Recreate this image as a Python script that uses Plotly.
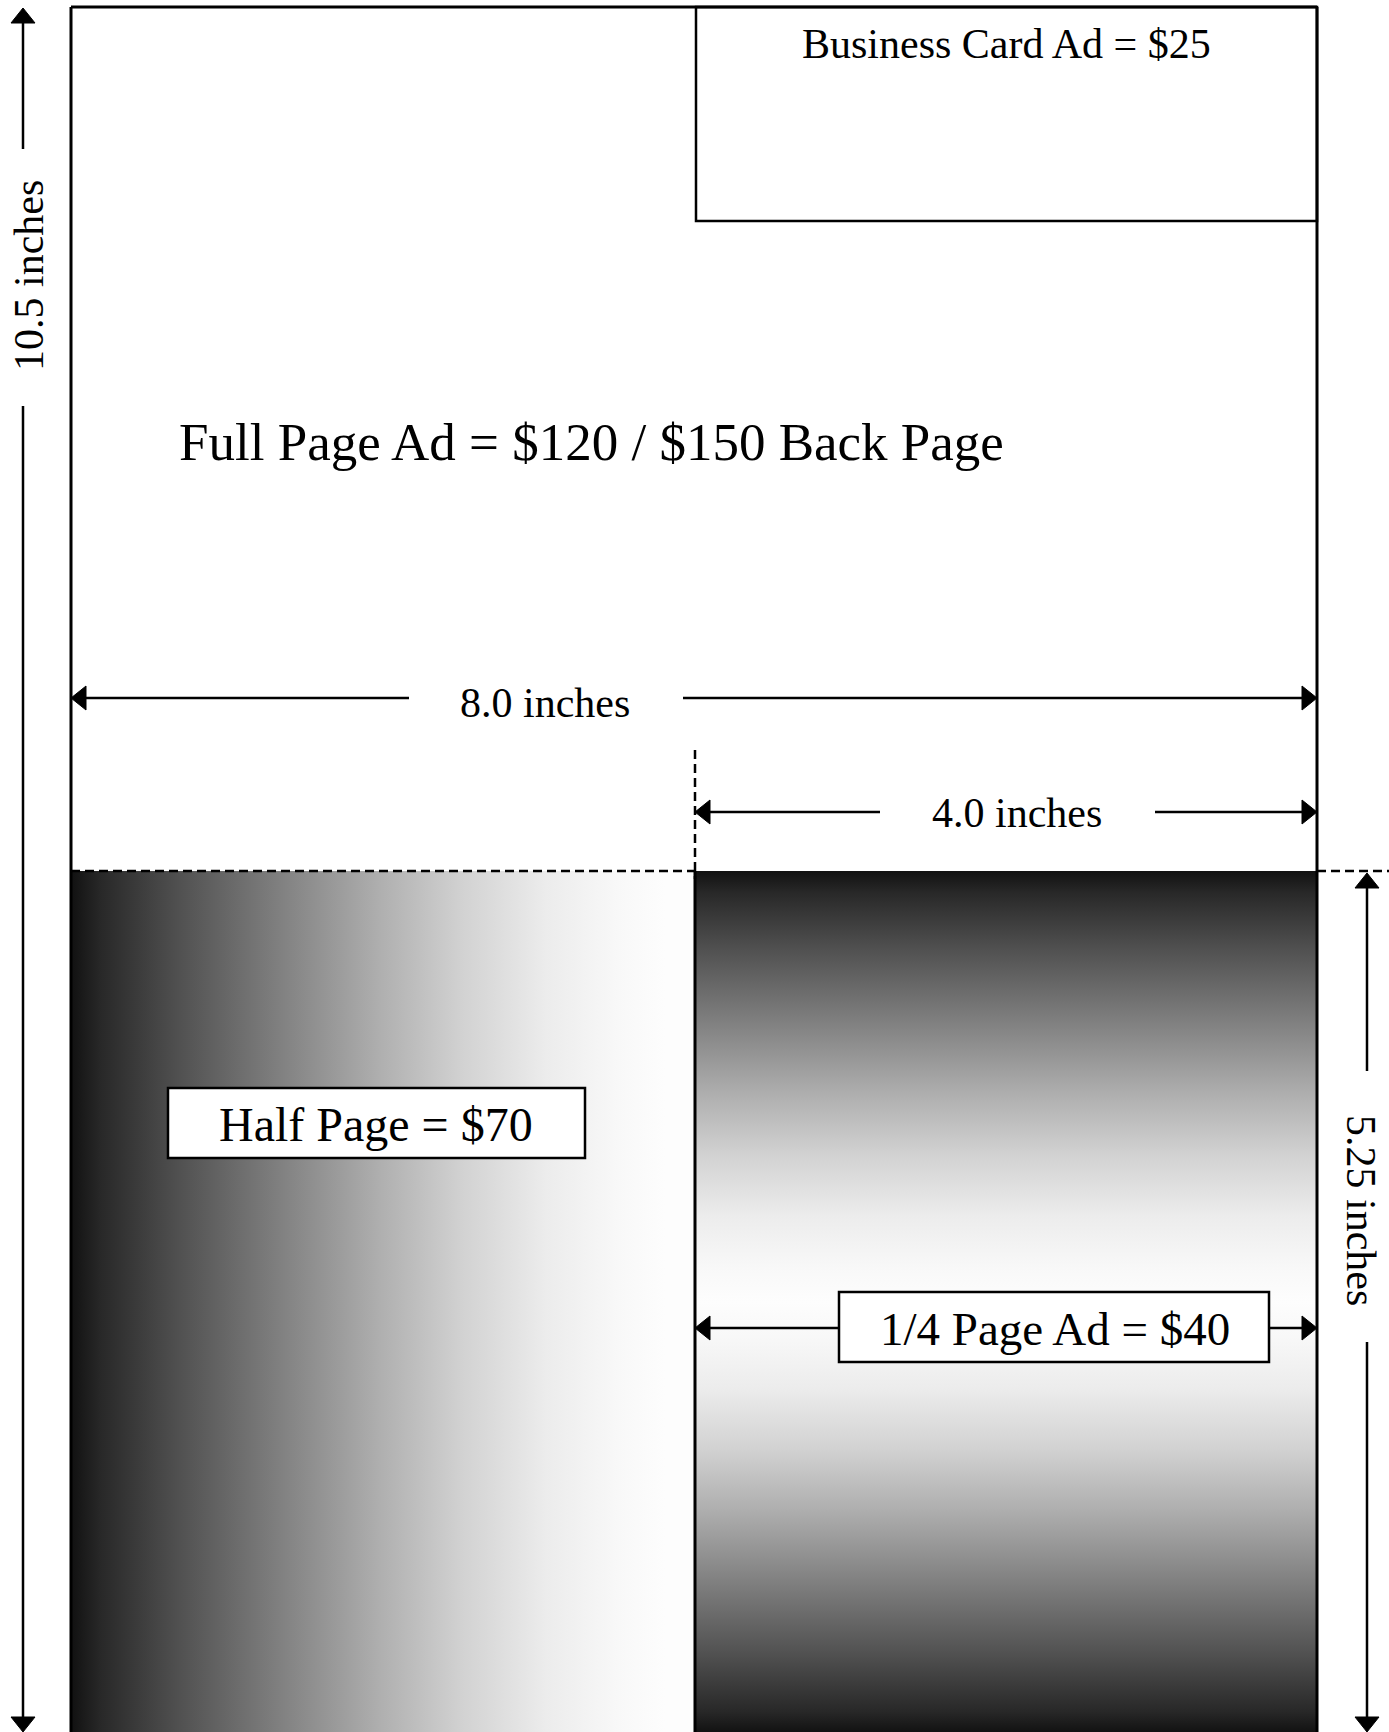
import plotly.graph_objects as go

# ---------------- data (text content) ----------------
ad_names = ["Full Page Ad", "Business Card Ad", "Half Page", "1/4 Page Ad"]
ad_prices = ["$120 / $150 Back Page", "$25", "$70", "$40"]
dim_labels = ["10.5 inches", "8.0 inches", "4.0 inches", "5.25 inches"]

# grey ramps of the two gradient fills (position, grey level)
ramp_pos = [0.0, 0.05, 0.18, 0.38, 0.52, 0.66, 0.80, 0.92, 1.0]
ramp_grey = [17, 40, 80, 136, 175, 210, 236, 248, 253]

# ---------------- layout geometry (pixels) ----------------
W, H = 1389, 1732
PL, PR, PT = 71, 1317, 7          # page left / right / top
MID = 695                          # middle of page
HALF_TOP = 871                     # top of half page / quarter
BC_BOTTOM = 221                    # business card bottom
FONT = "Liberation Serif, Times New Roman, serif"

fig = go.Figure()


def grey(v):
    return f"rgb({v},{v},{v})"


h_scale = [[p, grey(g)] for p, g in zip(ramp_pos, ramp_grey)]
# vertical ramp: dark at top, white in middle, dark at bottom (symmetric)
v_scale = [[p / 2, grey(g)] for p, g in zip(ramp_pos, ramp_grey)] + \
          [[1 - p / 2, grey(g)] for p, g in reversed(list(zip(ramp_pos, ramp_grey)))][1:]

# Half page gradient (horizontal)
fig.add_trace(go.Scatter(
    x=[PL, MID, MID, PL, PL], y=[HALF_TOP, HALF_TOP, H + 20, H + 20, HALF_TOP],
    mode="lines", fill="toself", line=dict(width=0),
    fillgradient=dict(type="horizontal", colorscale=h_scale, start=PL, stop=MID - 30),
    hoverinfo="skip", showlegend=False))

# Quarter page gradient (vertical)
fig.add_trace(go.Scatter(
    x=[MID, PR, PR, MID, MID], y=[HALF_TOP, HALF_TOP, H + 1, H + 1, HALF_TOP],
    mode="lines", fill="toself", line=dict(width=0),
    fillgradient=dict(type="vertical", colorscale=v_scale, start=HALF_TOP, stop=H + 1),
    hoverinfo="skip", showlegend=False))

shapes = []


def line(x0, y0, x1, y1, w=2, dash="solid"):
    shapes.append(dict(type="line", xref="x", yref="y", x0=x0, y0=y0, x1=x1, y1=y1,
                       line=dict(color="black", width=w, dash=dash)))


def rect(x0, y0, x1, y1, w=2, fill="rgba(0,0,0,0)"):
    shapes.append(dict(type="rect", xref="x", yref="y", x0=x0, y0=y0, x1=x1, y1=y1,
                       line=dict(color="black", width=w), fillcolor=fill))


# page border
line(PL, PT, PR, PT, 3)
line(PL, PT, PL, H + 10, 3)
line(PR, PT, PR, H + 10, 3)
# quarter left border
line(MID, HALF_TOP, MID, H + 10, 3)
# business card
rect(MID + 1, PT, PR, BC_BOTTOM, 2.5)
# dashed guides
line(PL, HALF_TOP, MID, HALF_TOP, 2.5, "9px,5px")
line(PR, HALF_TOP, W, HALF_TOP, 2.5, "9px,5px")
line(MID, 750, MID, HALF_TOP + 8, 2.5, "9px,5px")

# dimension arrows: line segments
arrow_specs = [
    # (orientation, fixed coord, start, end, gap_start, gap_end)
    ("v", 23, PT + 1, H, 149, 406),
    ("h", 698, PL, PR, 409, 683),
    ("h", 812, MID, PR, 880, 1155),
    ("v", 1367, HALF_TOP + 2, H, 1071, 1342),
    ("h", 1328, MID, PR, 839, 1269),
]
HEAD_W, HEAD_L = 24, 15
for o, c, a, b, g0, g1 in arrow_specs:
    if o == "v":
        line(c, a + HEAD_L - 2, c, g0, 2.5)
        line(c, g1, c, b - HEAD_L + 2, 2.5)
        heads = [(c, a, 0, 1), (c, b, 0, -1)]
    else:
        line(a + HEAD_L - 2, c, g0, c, 2.5)
        line(g1, c, b - HEAD_L + 2, c, 2.5)
        heads = [(a, c, 1, 0), (b, c, -1, 0)]
    for tx, ty, dx, dy in heads:
        # triangle with tip at (tx,ty), pointing opposite to (dx,dy)
        bx, by = tx + dx * HEAD_L, ty + dy * HEAD_L
        px, py = -dy * HEAD_W / 2, dx * HEAD_W / 2
        fig.add_trace(go.Scatter(
            x=[tx, bx + px, bx - px, tx], y=[ty, by + py, by - py, ty],
            mode="lines", fill="toself", fillcolor="black",
            line=dict(color="black", width=1), hoverinfo="skip", showlegend=False))

# label boxes
rect(168, 1088, 585, 1158, 2.5, "white")
rect(839, 1292, 1269, 1362, 2.5, "white")

annotations = []


def text(x, y, s, size, angle=0):
    annotations.append(dict(x=x, y=y, xref="x", yref="y", text=s, showarrow=False,
                            textangle=angle, xanchor="center", yanchor="middle",
                            font=dict(family=FONT, size=size, color="black")))


text(591, 442, f"{ad_names[0]} = {ad_prices[0]}", 53)
text(1006, 44, f"{ad_names[1]} = {ad_prices[1]}", 42)
text(376, 1124, f"{ad_names[2]} = {ad_prices[2]}", 48)
text(1055, 1329, f"{ad_names[3]} = {ad_prices[3]}", 47)
text(29, 276, dim_labels[0], 42, -90)
text(545, 703, dim_labels[1], 42)
text(1017, 813, dim_labels[2], 42)
text(1361, 1210, dim_labels[3], 42, 90)

fig.update_layout(
    width=W, height=H, margin=dict(l=0, r=0, t=0, b=0),
    paper_bgcolor="white", plot_bgcolor="white",
    xaxis=dict(range=[0, W], visible=False, fixedrange=True),
    yaxis=dict(range=[H, 0], visible=False, fixedrange=True),
    shapes=shapes, annotations=annotations, showlegend=False,
)

fig.write_html("out.html", config=dict(displayModeBar=False),
               post_script="document.body.style.margin='0';")
